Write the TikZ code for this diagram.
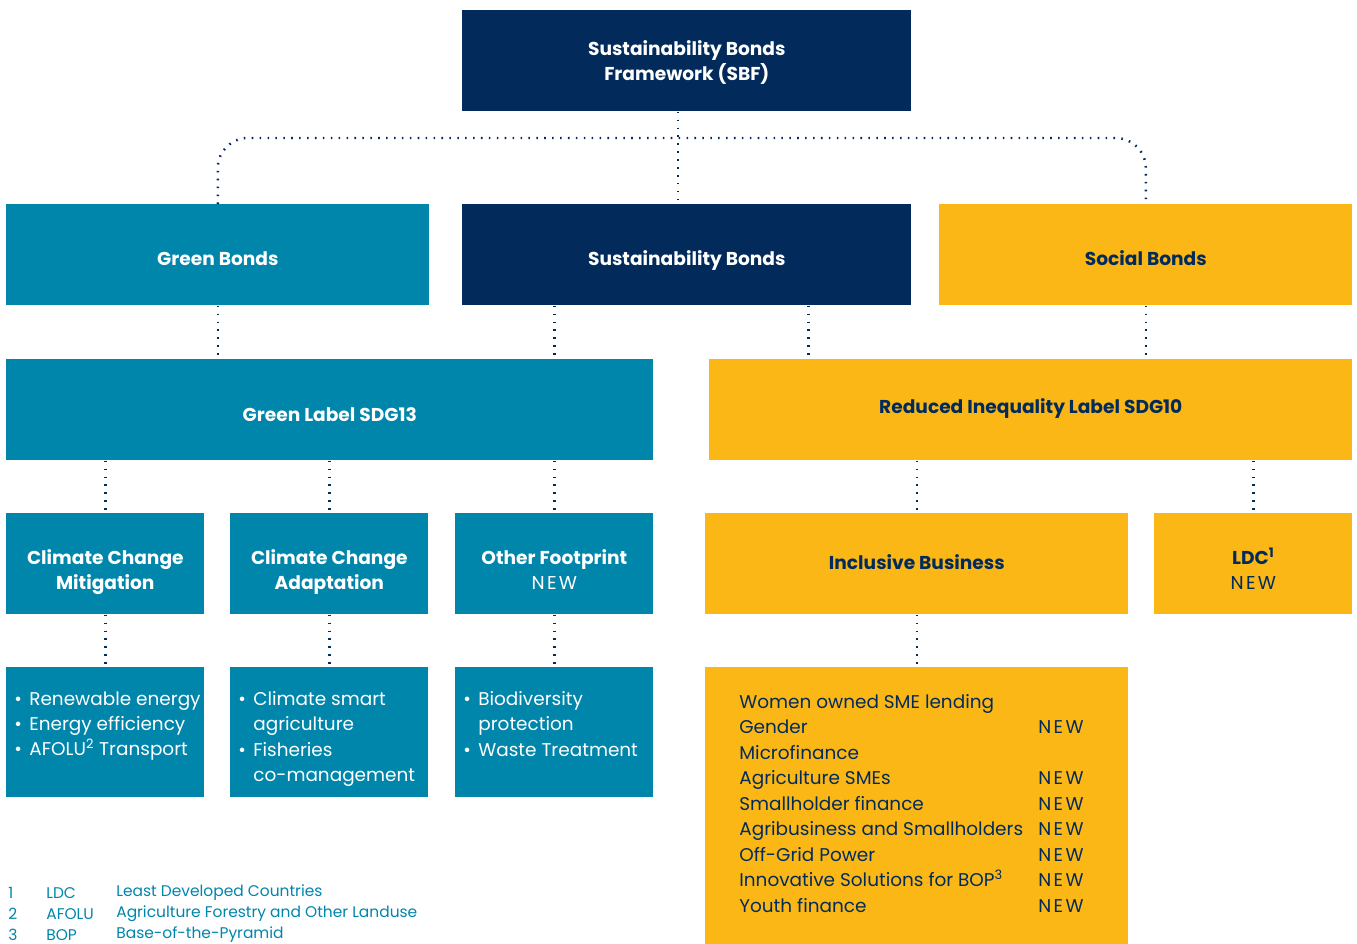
\documentclass[tikz,border=0pt]{standalone}
\usepackage{fontspec}
\setmainfont{Poppins}
\usetikzlibrary{positioning,calc}
\definecolor{sbnavy}{HTML}{022B5C}
\definecolor{sbteal}{HTML}{0085AB}
\definecolor{sbyellow}{HTML}{FBB715}
\tikzset{
	box/.style={anchor=north west, inner sep=0pt, minimum height=2.02cm, text height=12.5pt, text depth=0pt, align=center, font=\bfseries\fontsize{10.6}{14.2}\selectfont},
	navybox/.style={box, fill=sbnavy, text=white},
	tealbox/.style={box, fill=sbteal, text=white},
	yellowbox/.style={box, fill=sbyellow, text=sbnavy},
	twoline/.style={text height=29.5pt},
	listbox/.style={anchor=north west, inner sep=0pt, minimum width=3.96cm, minimum height=2.6cm},
	listtext/.style={anchor=north west, inner sep=0pt, align=left, font=\fontsize{10.5}{14.5}\selectfont},
	link/.style={sbnavy, line width=1.4pt, dash pattern=on 0.9pt off 3.6pt},
	note/.style={anchor=west, inner sep=0pt, text=sbteal, font=\fontsize{8.8}{10}\selectfont}
}
\newcommand{\bl}{\makebox[0.3cm][l]{\textbullet}}
\newcommand{\new}{{\addfontfeatures{LetterSpace=13}NEW}}
\begin{document}
\begin{tikzpicture}[x=0.02cm, y=-0.02cm]
	\useasboundingbox (0,0) rectangle (1357,944);
	% top
	\node[navybox, minimum width=8.98cm, text height=22.7pt] (sbf) at (462,10) {Sustainability Bonds\\Framework (SBF)};
	% bond types
	\node[tealbox, minimum width=8.46cm] (gb) at (6,204) {Green Bonds};
	\node[navybox, minimum width=8.98cm] (sb) at (462,204) {Sustainability Bonds};
	\node[yellowbox, minimum width=8.26cm] (soc) at (939,204) {Social Bonds};
	% labels
	\node[tealbox, minimum width=12.94cm, text height=13.6pt] (gl) at (6,359) {Green Label SDG13};
	\node[yellowbox, minimum width=12.86cm, text height=4.5pt] (ri) at (709,359) {Reduced Inequality Label SDG10};
	% categories
	\node[tealbox, twoline, minimum width=3.96cm] (ccm) at (6,513) {Climate Change\\Mitigation};
	\node[tealbox, twoline, minimum width=3.96cm] (cca) at (230,513) {Climate Change\\Adaptation};
	\node[tealbox, twoline, minimum width=3.96cm] (ofp) at (455,513) {Other Footprint\\{\mdseries\new}};
	\node[yellowbox, minimum width=8.46cm, text height=6.8pt] (ib) at (705,513) {Inclusive Business};
	\node[yellowbox, twoline, minimum width=3.96cm] (ldc) at (1154,513) {LDC\textsuperscript{1}\\{\mdseries\new}};
	% lists
	\node[listbox, fill=sbteal] (ccm-l) at (6,667) {};
	\node[listbox, fill=sbteal] (cca-l) at (230,667) {};
	\node[listbox, fill=sbteal] (ofp-l) at (455,667) {};
	\node[listbox, fill=sbyellow, minimum width=8.46cm, minimum height=5.54cm] (ib-l) at (705,667) {};
	\node[listtext, text=white] (ccm-t) at ($(ccm-l.north west)+(8,24)$)
		{\bl Renewable energy\\\bl Energy efficiency\\\bl AFOLU\textsuperscript{2} Transport};
	\node[listtext, text=white] (cca-t) at ($(cca-l.north west)+(8,24)$)
		{\bl Climate smart\\\hspace*{0.3cm}agriculture\\\bl Fisheries\\\hspace*{0.3cm}co-management};
	\node[listtext, text=white] (ofp-t) at ($(ofp-l.north west)+(8,24)$)
		{\bl Biodiversity\\\hspace*{0.3cm}protection\\\bl Waste Treatment};
	\node[listtext, text=sbnavy] (ib-t) at ($(ib-l.north west)+(34,27)$)
		{Women owned SME lending\\
		\makebox[5.98cm][l]{Gender}\new\\
		Microfinance\\
		\makebox[5.98cm][l]{Agriculture SMEs}\new\\
		\makebox[5.98cm][l]{Smallholder finance}\new\\
		\makebox[5.98cm][l]{Agribusiness and Smallholders}\new\\
		\makebox[5.98cm][l]{Off-Grid Power}\new\\
		\makebox[5.98cm][l]{Innovative Solutions for BOP\textsuperscript{3}}\new\\
		\makebox[5.98cm][l]{Youth finance}\new};
	% dotted connectors
	\coordinate (bar) at (678,138);
	\draw[link] (sbf.south -| bar) -- (sb.north -| bar);
	\draw[link, rounded corners=0.6cm] (gb.north) |- (bar) -| (soc.north);
	\draw[link] (gb.south) -- (gb.south |- gl.north);
	\draw[link] (sb.south -| ofp) -- (gl.north -| ofp);
	\draw[link] ([xshift=2.43cm]sb.south) -- ([xshift=2.43cm]sb.south |- ri.north);
	\draw[link] (soc.south) -- (soc.south |- ri.north);
	\foreach \b in {ccm,cca,ofp}{
		\draw[link] (gl.south -| \b) -- (\b.north);
		\draw[link] (\b.south) -- (\b-l.north);
	}
	\draw[link] (ri.south -| ib) -- (ib.north);
	\draw[link] (ri.south -| ldc) -- (ldc.north);
	\draw[link] (ib.south) -- (ib-l.north);
	% footnotes
	\foreach \ab/\full [count=\i] in {LDC/Least Developed Countries, AFOLU/Agriculture Forestry and Other Landuse, BOP/Base-of-the-Pyramid}{
		\node[note] (n\i) at (8,872+21*\i) {\i};
		\node[note] (a\i) at (46,872+21*\i) {\ab};
		\node[note] (f\i) at (116,872+21*\i) {\full};
	}
\end{tikzpicture}
\end{document}
